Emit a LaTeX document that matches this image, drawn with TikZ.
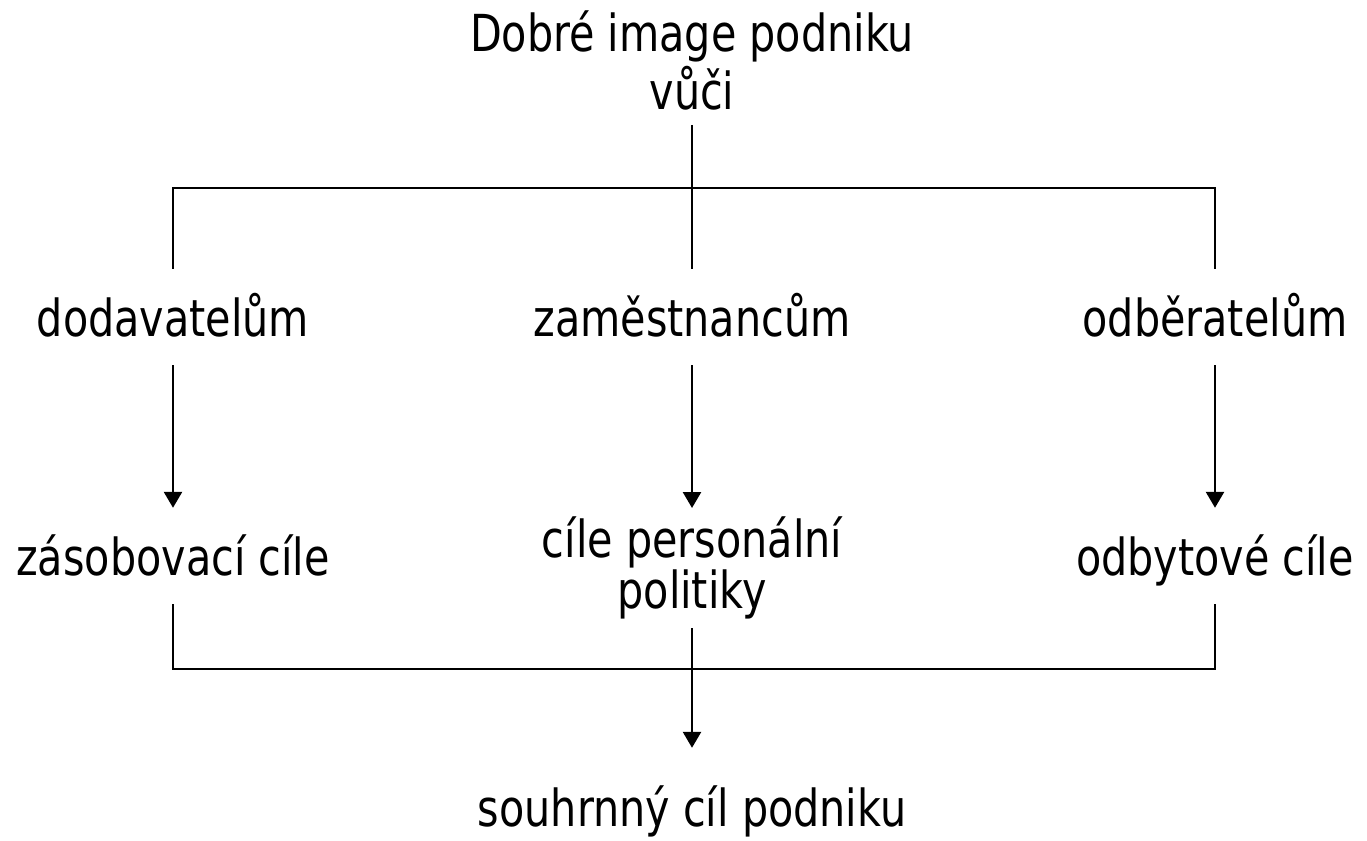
\documentclass[tikz,border=0pt]{standalone}
\usepackage{fontspec}
\setmainfont{DejaVu Sans}[FakeStretch=0.81]
\usepackage{tikz}
\usetikzlibrary{arrows.meta}

\tikzset{
  lbl/.style={font=\fontsize{51}{58}\selectfont, anchor=base, inner sep=0pt,
    text height=67pt, text depth=29pt},
  lbltwo/.style={font=\fontsize{51}{40}\selectfont, align=center, inner xsep=0pt},
  link/.style={line width=2.6pt},
  flow/.style={link, -{Triangle[width=18pt,length=16pt]}},
}

\begin{document}
\begin{tikzpicture}[x=1pt,y=-1pt]
  \useasboundingbox (0,0) rectangle (1367,840);

  % top
  \node[lbltwo, font=\fontsize{51}{58}\selectfont, inner ysep=15pt, anchor=south] (title) at (692,125)
    {Dobré image podniku\\vůči};

  % target groups
  \node[lbl] (dod) at (173,336) {dodavatelům};
  \node[lbl] (zam) at (692,336) {zaměstnancům};
  \node[lbl] (odb) at (1215,336) {odběratelům};

  % partial goals
  \node[lbl] (zas) at (173,575) {zásobovací cíle};
  \node[lbltwo, inner ysep=9pt, anchor=north] (cel) at (692,508) {cíle personální\\politiky};
  \node[lbl] (obt) at (1215,575) {odbytové cíle};

  % overall goal
  \node[lbl, text height=78pt] (sou) at (692,826) {souhrnný cíl podniku};

  \coordinate (bartop) at (692,188);
  \coordinate (barbot) at (692,669);

  % connectors
  \draw[link] (title.south) -- (zam.north);
  \draw[link] (dod.north) |- (bartop) -| (odb.north);
  \draw[flow] (dod) -- (zas);
  \draw[flow] (zam) -- (cel);
  \draw[flow] (odb) -- (obt);
  \draw[link] (zas.south) |- (barbot) -| (obt.south);
  \draw[flow] (cel.south) -- (sou.north);
\end{tikzpicture}
\end{document}
